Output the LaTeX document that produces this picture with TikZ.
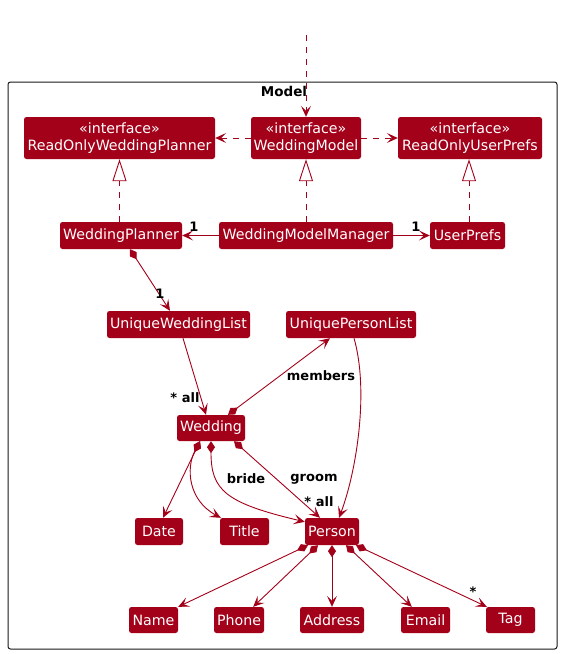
\documentclass[tikz,border=0pt]{standalone}
\usepackage{fontspec}
\setmainfont{DejaVu Sans}
\usetikzlibrary{arrows.meta}
\definecolor{umlred}{HTML}{A30019}
\definecolor{framegray}{HTML}{181818}
% a class box given by its corners (x1,y1) and (x2,y2)
\newcommand{\umlclass}[6]{%
  \node[cls, minimum width={(#4-#2)*1pt}, minimum height={(#5-#3)*1pt}]
    (#1) at ({(#2+#4)/2},{(#3+#5)/2}) {#6};}
\begin{document}
\begin{tikzpicture}[x=1pt,y=-1pt,
  cls/.style={fill=umlred, text=white, rounded corners=2.5pt, inner sep=0pt,
    font=\fontsize{14.2}{17}\selectfont, align=center},
  lbl/.style={font=\bfseries\fontsize{13}{15}\selectfont, inner sep=0pt},
  link/.style={draw=umlred, line width=0.9pt},
  dep/.style={link, dash pattern=on 6pt off 6pt},
  head/.style={arrows={-Stealth[length=11pt,width=10pt,inset=5pt]}},
  comp/.style={arrows={Diamond[length=12pt,width=8pt]-Stealth[length=11pt,width=10pt,inset=5pt]}},
  real/.style={dep, arrows={-Triangle[length=22pt,width=14pt,fill=white]}},
]
\useasboundingbox (0,0) rectangle (564,654);

% package frame
\node[draw=framegray, line width=1pt, rounded corners=2.5pt, minimum width=549pt,
  minimum height=567pt, inner sep=0pt] (frame) at (282.5,365.5) {};
\node[lbl, font=\bfseries\fontsize{13.5}{15}\selectfont] (title) at (284,91) {Model};

% classes
\umlclass{rowp}{24}{117}{215}{159}{«interface»\\ReadOnlyWeddingPlanner}
\umlclass{wm}{251}{117}{361}{159}{«interface»\\WeddingModel}
\umlclass{roup}{398}{117}{542}{159}{«interface»\\ReadOnlyUserPrefs}
\umlclass{wp}{60}{222}{182}{249}{WeddingPlanner}
\umlclass{wmm}{219}{222}{393}{249}{WeddingModelManager}
\umlclass{up}{430}{222}{505}{249}{UserPrefs}
\umlclass{uwl}{107}{311}{250}{338}{UniqueWeddingList}
\umlclass{upl}{286}{311}{416}{338}{UniquePersonList}
\umlclass{wed}{177}{415}{245}{441}{Wedding}
\umlclass{date}{135}{518}{183}{545}{Date}
\umlclass{ttl}{220}{518}{269}{545}{Title}
\umlclass{person}{305}{518}{359}{545}{Person}
\umlclass{name}{129}{607}{178}{633}{Name}
\umlclass{phone}{214}{607}{264}{633}{Phone}
\umlclass{address}{300}{607}{364}{633}{Address}
\umlclass{email}{401}{607}{450}{633}{Email}
\umlclass{tag}{486}{607}{535}{633}{Tag}

\coordinate (ext) at (306,35);

% dependencies and realizations
\draw[dep, head] (ext) -- (wm.north);
\draw[dep, head] (wm) -- (rowp);
\draw[dep, head] (wm) -- (roup);
\draw[real] (wp.north -| rowp.south) -- (rowp.south);
\draw[real] (wmm) -- (wm);
\draw[real] ([xshift=1.5pt]up.north) -- ([xshift=-1pt]roup.south);

% associations
\draw[link, head] (wmm) -- (wp);
\draw[link, head] (wmm) -- (up);
\draw[link, comp] ([xshift=9pt]wp.south) -- ([xshift=-8.5pt]uwl.north);
\draw[link, head] ([xshift=4.5pt]uwl.south) -- ([xshift=-5pt]wed.north);
\draw[link, comp] ([xshift=17pt]wed.north) -- ([xshift=-21pt]upl.south);
\draw[link, head] ([xshift=3pt]upl.south) .. controls (369,390) and (357,470) .. ([xshift=7pt]person.north);
\draw[link, comp] ([xshift=-11pt]wed.south) -- ([xshift=4pt]date.north);
\draw[link, comp] ([xshift=-11pt]wed.south) .. controls (186,468) and (188,500) .. ([xshift=1pt]ttl.north west);
\draw[link, comp] (wed.south) .. controls (211,490) and (225,503) .. ([yshift=-4pt]person.north west);
\draw[link, comp] ([xshift=23pt]wed.south) -- ([xshift=-12pt]person.north);
\draw[link, comp] ([xshift=-24pt]person.south) -- (name.north east);
\draw[link, comp] ([xshift=-14pt]person.south) -- ([xshift=-11pt]phone.north east);
\draw[link, comp] (person.south) -- (address.north);
\draw[link, comp] ([xshift=14pt]person.south) -- ([xshift=11pt]email.north west);
\draw[link, comp] ([xshift=24pt]person.south) -- ([xshift=1pt]tag.north west);

% multiplicities and roles
\node[lbl] (m1) at (194,227) {1};
\node[lbl] (m2) at (416,227) {1};
\node[lbl] (m3) at (160,294) {1};
\node[lbl] (m4) at (185,398) {* all};
\node[lbl] (m5) at (321,376) {members};
\node[lbl] (m6) at (246,479) {bride};
\node[lbl] (m7) at (314,479) {groom};
\node[lbl] (m8) at (319,502) {* all};
\node[lbl] (m9) at (473,592) {*};
\end{tikzpicture}
\end{document}
